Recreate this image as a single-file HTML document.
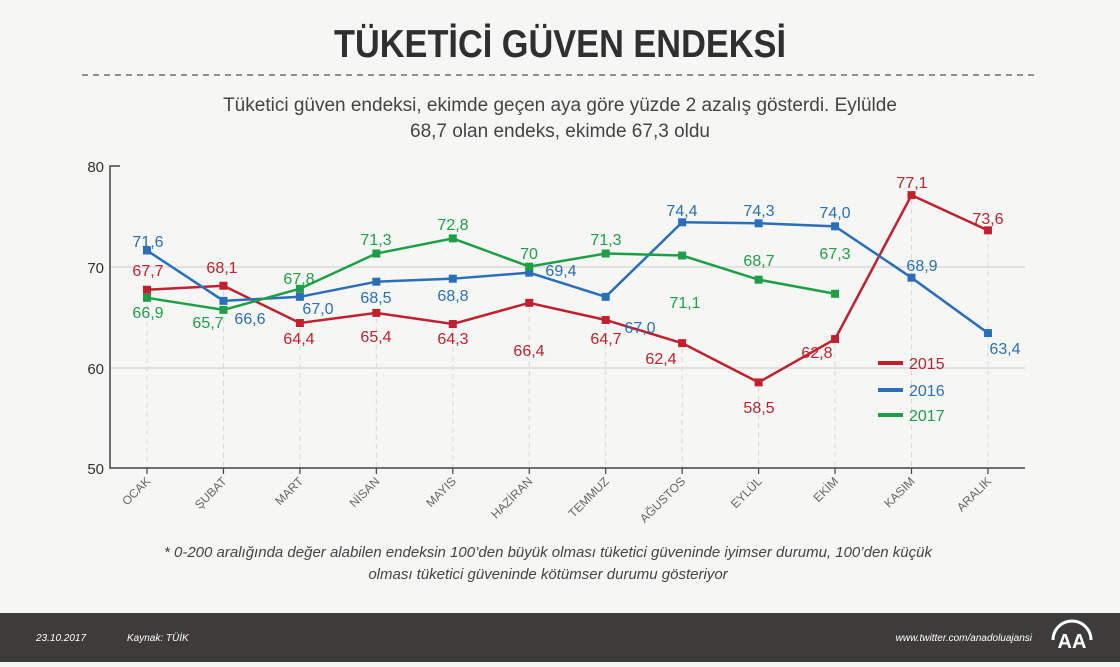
<!DOCTYPE html>
<html><head><meta charset="utf-8"><style>
body{margin:0;width:1120px;height:662px;background:#f6f6f4;overflow:hidden;font-family:"Liberation Sans",sans-serif}
</style></head><body>
<svg width="1120" height="662" xmlns="http://www.w3.org/2000/svg" font-family="Liberation Sans, sans-serif">
<rect width="1120" height="662" fill="#f6f6f4"/>
<text x="560" y="57" text-anchor="middle" font-size="39" font-weight="bold" fill="#2f2f2f" textLength="452" lengthAdjust="spacingAndGlyphs">TÜKETİCİ GÜVEN ENDEKSİ</text>
<line x1="82" y1="75" x2="1037" y2="75" stroke="#555" stroke-width="1.2" stroke-dasharray="6,5"/>
<text x="560" y="111" text-anchor="middle" font-size="19" fill="#444">Tüketici güven endeksi, ekimde geçen aya göre yüzde 2 azalış gösterdi. Eylülde</text>
<text x="560" y="137" text-anchor="middle" font-size="19" fill="#444">68,7 olan endeks, ekimde 67,3 oldu</text>
<g stroke="#ccc" stroke-width="1"><line x1="110" y1="267" x2="1025" y2="267"/><line x1="110" y1="368" x2="1025" y2="368"/></g>
<g stroke="#d8d8d8" stroke-dasharray="5,4" id="vl"></g>
<path d="M120 166H110V468H1025" fill="none" stroke="#444" stroke-width="1.5"/>
<g font-size="15" fill="#333" text-anchor="end"><text x="104" y="172">80</text><text x="104" y="273">70</text><text x="104" y="374">60</text><text x="104" y="474">50</text></g>
<g id="ch"></g>
<g stroke-width="4"><line x1="878" y1="363" x2="903" y2="363" stroke="#c0202f"/><line x1="878" y1="390" x2="903" y2="390" stroke="#2a6fb8"/><line x1="878" y1="415" x2="903" y2="415" stroke="#1f9e48"/></g>
<g font-size="16"><text x="909" y="369" fill="#c0202f">2015</text><text x="909" y="396" fill="#2a6fb8">2016</text><text x="909" y="421" fill="#1f9e48">2017</text></g>
<g font-size="15" font-style="italic" fill="#444" text-anchor="middle"><text x="548" y="557">* 0-200 aralığında değer alabilen endeksin 100’den büyük olması tüketici güveninde iyimser durumu, 100’den küçük</text><text x="548" y="579">olması tüketici güveninde kötümser durumu gösteriyor</text></g>
<rect x="0" y="613" width="1120" height="49" fill="#3d3c3b"/>
<g font-size="10" font-style="italic" fill="#fff"><text x="36" y="641">23.10.2017</text><text x="127" y="641">Kaynak: TÜİK</text><text x="1032" y="641" text-anchor="end">www.twitter.com/anadoluajansi</text></g>
<path d="M1053 640a19 19 0 0 1 38 0" fill="none" stroke="#fff" stroke-width="3"/>
<text x="1072" y="648" text-anchor="middle" font-size="20" font-weight="bold" fill="#fff">AA</text>
</svg>
<script>
const X=i=>147+76.45*i, Y=v=>468-10.07*(v-50);
const ns="http://www.w3.org/2000/svg";
const ch=document.getElementById('ch'), vl=document.getElementById('vl');
const mk=(t,a,p)=>{const e=document.createElementNS(ns,t);for(const k in a)e.setAttribute(k,a[k]);(p||ch).appendChild(e);return e;};
const months=["OCAK","ŞUBAT","MART","NİSAN","MAYIS","HAZİRAN","TEMMUZ","AĞUSTOS","EYLÜL","EKİM","KASIM","ARALIK"];
const d15=[67.7,68.1,64.4,65.4,64.3,66.4,64.7,62.4,58.5,62.8,77.1,73.6];
months.forEach((m,i)=>{const x=X(i);
 mk('line',{x1:x,y1:Y(d15[i])+5,x2:x,y2:468},vl);
 mk('line',{x1:x,y1:468,x2:x,y2:474,stroke:'#444','stroke-width':1.2});
 const t=mk('text',{x:x+4,y:482,'text-anchor':'end','font-size':12,fill:'#666',transform:`rotate(-45 ${x+4} 482)`});t.textContent=m;});
const S=[
 {c:'#c0202f',d:d15,t:["67,7","68,1","64,4","65,4","64,3","66,4","64,7","62,4","58,5","62,8","77,1","73,6"],l:[[148,276],[222,273],[299,344],[376,342],[453,344],[529,356],[606,344],[661,364],[759,413],[817,358],[912,188],[988,224]]},
 {c:'#2a6fb8',d:[71.6,66.6,67.0,68.5,68.8,69.4,67.0,74.4,74.3,74.0,68.9,63.4],t:["71,6","66,6","67,0","68,5","68,8","69,4","67,0","74,4","74,3","74,0","68,9","63,4"],l:[[148,247],[250,324],[318,314],[376,303],[453,301],[561,276],[640,333],[682,216],[759,216],[835,218],[922,271],[1005,354]]},
 {c:'#1f9e48',d:[66.9,65.7,67.8,71.3,72.8,70,71.3,71.1,68.7,67.3],t:["66,9","65,7","67,8","71,3","72,8","70","71,3","71,1","68,7","67,3"],l:[[148,318],[208,328],[299,284],[376,245],[453,230],[529,259],[606,245],[685,308],[759,266],[835,259]]}];
S.forEach(s=>{mk('polyline',{points:s.d.map((v,i)=>X(i)+','+Y(v)).join(' '),fill:'none',stroke:s.c,'stroke-width':2.5});
 s.d.forEach((v,i)=>{mk('rect',{x:X(i)-4,y:Y(v)-4,width:8,height:8,fill:s.c});
  const t=mk('text',{x:s.l[i][0],y:s.l[i][1],'text-anchor':'middle','font-size':16,fill:s.c});t.textContent=s.t[i];});});
</script>
</body></html>
